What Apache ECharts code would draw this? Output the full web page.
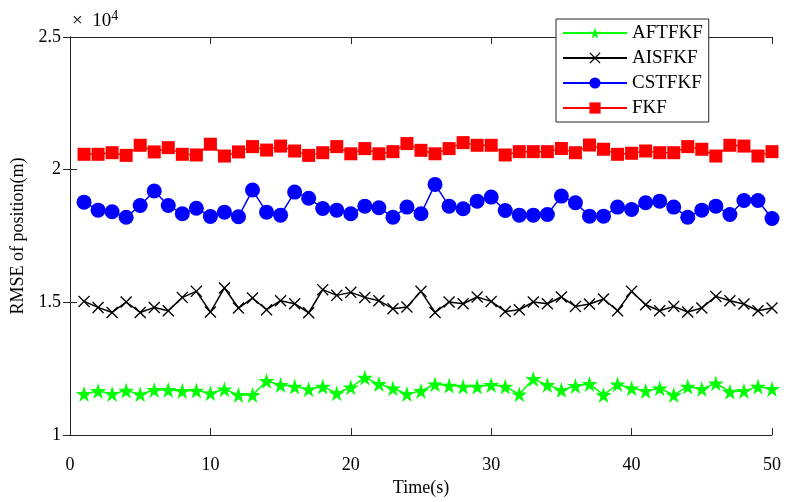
<!DOCTYPE html>
<html>
<head>
<meta charset="utf-8">
<title>RMSE of position</title>
<script src="https://cdn.jsdelivr.net/npm/echarts@6/dist/echarts.min.js"></script>
<style>
    html, body { margin: 0; padding: 0; background: #fff; }
    #main { width: 797px; height: 502px; }
</style>
</head>
<body>
<div id="main"></div>
<script>
// time axis, one point per second
var timeData = [];
for (var t = 1; t <= 50; t++) { timeData.push(t); }

var seriesNames = ['AFTFKF', 'AISFKF', 'CSTFKF', 'FKF'];

// values (m)
var aftfkf = [11550, 11664, 11550, 11676, 11538, 11702, 11702, 11664, 11676, 11576,
    11727, 11513, 11513, 12042, 11891, 11827, 11727, 11827, 11576, 11803,
    12166, 11928, 11765, 11550, 11664, 11916, 11865, 11827, 11827, 11891,
    11827, 11538, 12117, 11891, 11700, 11853, 11928, 11513, 11916, 11765,
    11664, 11765, 11513, 11827, 11740, 11954, 11638, 11664, 11827, 11740];
var aisfkf = [15038, 14811, 14622, 15015, 14622, 14811, 14686, 15189, 15416, 14637,
    15543, 14788, 15165, 14724, 15065, 14951, 14610, 15480, 15265, 15378,
    15189, 15065, 14762, 14826, 15416, 14622, 15015, 14951, 15203, 15038,
    14660, 14724, 15015, 14951, 15203, 14849, 14940, 15127, 14686, 15416,
    14913, 14686, 14849, 14637, 14788, 15227, 15065, 14940, 14686, 14788];
var cstfkf = [18778, 18475, 18415, 18210, 18653, 19195, 18653, 18340, 18550, 18237,
    18400, 18225, 19233, 18400, 18287, 19157, 18925, 18540, 18475, 18340,
    18627, 18566, 18210, 18590, 18340, 19447, 18627, 18528, 18815, 18967,
    18464, 18287, 18287, 18313, 19005, 18755, 18250, 18250, 18590, 18502,
    18755, 18815, 18590, 18210, 18475, 18627, 18313, 18842, 18842, 18162];
var fkf = [20580, 20580, 20640, 20540, 20920, 20670, 20830, 20580, 20555, 20960,
    20515, 20670, 20870, 20740, 20890, 20705, 20540, 20640, 20870, 20600,
    20795, 20600, 20680, 20985, 20730, 20600, 20795, 21020, 20920, 20920,
    20555, 20680, 20680, 20680, 20800, 20640, 20930, 20770, 20580, 20620,
    20705, 20640, 20640, 20870, 20770, 20515, 20920, 20890, 20515, 20680];

var yTicks = [10000, 15000, 20000, 25000];

var starPath = 'path://M50,0 L61,35 L98,35 L68,57 L79,91 L50,70 L21,91 L32,57 L2,35 L39,35 Z';
var crossPath = 'path://M0,0.8 L0.8,0 L5,4.2 L9.2,0 L10,0.8 L5.8,5 L10,9.2 L9.2,10 L5,5.8 L0.8,10 L0,9.2 L4.2,5 Z';

var fontName = '"Liberation Serif", "Times New Roman", serif';
var axisColor = '#262626';

function pair(values) {
    var out = [];
    for (var i = 0; i < values.length; i++) {
        out.push([timeData[i], values[i]]);
    }
    return out;
}

function makeSeries(name, values, color, symbol, size) {
    return {
        name: name,
        type: 'line',
        data: pair(values),
        symbol: symbol,
        symbolSize: size,
        showAllSymbol: true,
        lineStyle: { color: color, width: 1.5 },
        itemStyle: { color: color },
        emphasis: { disabled: true },
        animation: false,
        z: 3
    };
}

var myChart = echarts.init(document.getElementById('main'));

var option = {
    backgroundColor: '#fff',
    animation: false,
    textStyle: { fontFamily: fontName },
    grid: { left: 70, right: 25, top: 37, bottom: 66 },
    legend: {
        data: seriesNames,
        orient: 'vertical',
        left: 556,
        top: 19,
        itemWidth: 64,
        itemHeight: 14,
        itemGap: 5,
        padding: [4, 6, 4, 6],
        backgroundColor: '#fff',
        borderColor: axisColor,
        borderWidth: 1,
        textStyle: { fontFamily: fontName, fontSize: 19, color: '#000', lineHeight: 20 },
        z: 10
    },
    xAxis: [{
        type: 'value',
        min: 0,
        max: 50,
        interval: 10,
        name: 'Time(s)',
        nameLocation: 'middle',
        nameGap: 43,
        nameTextStyle: { fontFamily: fontName, fontSize: 18, color: '#000' },
        axisLine: { lineStyle: { color: axisColor, width: 1 } },
        axisTick: { inside: true, length: 7, lineStyle: { color: axisColor } },
        axisLabel: { fontFamily: fontName, fontSize: 18, color: '#000', margin: 21 },
        splitLine: { show: false }
    }, {
        type: 'value',
        position: 'top',
        min: 0,
        max: 50,
        interval: 10,
        axisLine: { show: true, lineStyle: { color: axisColor, width: 1 } },
        axisTick: { inside: true, length: 7, lineStyle: { color: axisColor } },
        axisLabel: { show: false },
        splitLine: { show: false }
    }],
    yAxis: [{
        type: 'value',
        min: 10000,
        max: 25000,
        interval: 5000,
        name: 'RMSE of position(m)',
        nameLocation: 'middle',
        nameGap: 41,
        nameTextStyle: { fontFamily: fontName, fontSize: 18, color: '#000' },
        axisLine: { show: true, lineStyle: { color: axisColor, width: 1 } },
        axisTick: { inside: true, length: 7, lineStyle: { color: axisColor } },
        axisLabel: {
            fontFamily: fontName, fontSize: 18, color: '#000', margin: 9,
            formatter: function (v) { return String(v / 10000); }
        },
        splitLine: { show: false }
    }, {
        type: 'value',
        position: 'right',
        min: 10000,
        max: 25000,
        interval: 5000,
        axisLine: { show: true, lineStyle: { color: axisColor, width: 1 } },
        axisTick: { inside: true, length: 7, lineStyle: { color: axisColor } },
        axisLabel: { show: false },
        splitLine: { show: false }
    }],
    graphic: [{
        type: 'text',
        left: 72,
        top: 9,
        style: {
            text: '×  10{sup|4}',
            font: '19px ' + fontName,
            fill: '#000',
            rich: {
                sup: { fontSize: 14, fontFamily: fontName, verticalAlign: 'top', padding: [0, 0, 10, 0] }
            }
        }
    }],
    series: [
        makeSeries('AFTFKF', aftfkf, '#00ff00', starPath, 16),
        makeSeries('AISFKF', aisfkf, '#000000', crossPath, 12),
        makeSeries('CSTFKF', cstfkf, '#0000ff', 'circle', 15),
        makeSeries('FKF', fkf, '#ff0000', 'rect', 13)
    ]
};

myChart.setOption(option);
</script>
</body>
</html>
